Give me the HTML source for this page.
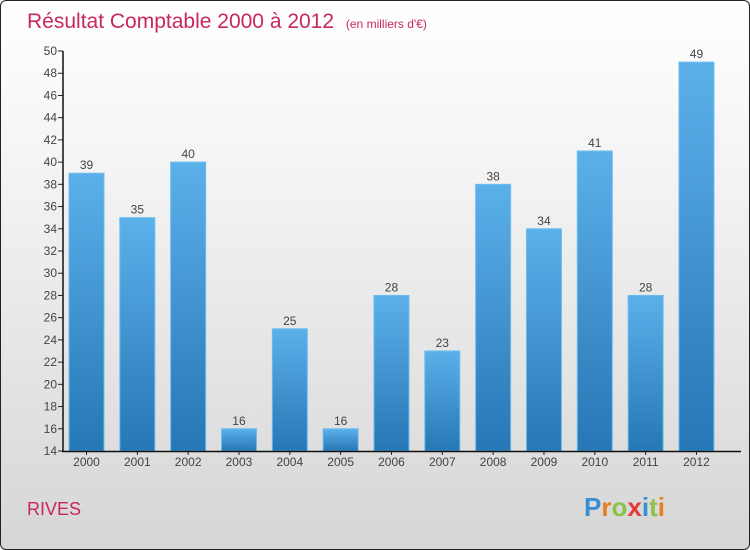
<!DOCTYPE html>
<html><head><meta charset="utf-8"><style>
body{margin:0;width:750px;height:550px;overflow:hidden;font-family:"Liberation Sans",sans-serif}
#frame{position:absolute;left:0;top:0;width:748px;height:548px;border:1px solid #222;border-radius:6px;background:linear-gradient(#ffffff,#f4f4f4 30%,#d6d6d6);overflow:hidden}
</style></head><body>
<div id="frame">
<svg width="750" height="550">
<defs>
<linearGradient id="bg" x1="0" y1="0" x2="0" y2="1"><stop offset="0" stop-color="#5cb0ea"/><stop offset="1" stop-color="#2677b5"/></linearGradient>
</defs>
<text x="26" y="27" font-size="21" fill="#c8285a">Résultat Comptable 2000 à 2012 <tspan font-size="12" dx="6">(en milliers d'€)</tspan></text>
<g id="plot"></g>
<text x="26" y="514" font-size="18" fill="#c8285a">RIVES</text>
<text x="583" y="515" font-size="26" font-weight="bold"><tspan fill="#3a8fd0">P</tspan><tspan fill="#e67e22">r</tspan><tspan fill="#8bc34a">o</tspan><tspan fill="#e53935">x</tspan><tspan fill="#3a8fd0">i</tspan><tspan fill="#8bc34a">t</tspan><tspan fill="#e67e22">i</tspan></text>
</svg></div>
<script>
const years=["2000","2001","2002","2003","2004","2005","2006","2007","2008","2009","2010","2011","2012"];
const values=[39,35,40,16,25,16,28,23,38,34,41,28,49];
const yTicks=[14,16,18,20,22,24,26,28,30,32,34,36,38,40,42,44,46,48,50];
const NS="http://www.w3.org/2000/svg";
const g=document.getElementById('plot');
const y=v=>450-(v-14)*400/36;
const x=i=>68+i*50.83;
function mk(t,a){const e=document.createElementNS(NS,t);for(const k in a)e.setAttribute(k,a[k]);g.appendChild(e);return e;}
yTicks.forEach(v=>{
 const l=mk('line',{x1:57,x2:62,y1:y(v),y2:y(v),stroke:'#222'});
 
 
 const t=mk('text',{x:56,y:y(v)+4,'text-anchor':'end','font-size':12,fill:'#444'});
 t.textContent=v;
 
 
});
years.forEach((yr,i)=>{
 const v=values[i];
 const r=mk('rect',{x:x(i),y:y(v),width:35,height:450-y(v),fill:'url(#bg)',stroke:'#6cbcf0','stroke-width':1});
 
 
 const t=mk('text',{x:x(i)+17.5,y:y(v)-4,'text-anchor':'middle','font-size':12,fill:'#444'});
 t.textContent=v;
 
 
 const xt=mk('text',{x:x(i)+17.5,y:465,'text-anchor':'middle','font-size':12,fill:'#444'});
 xt.textContent=yr;
 
 
 const tk=mk('line',{x1:x(i)+17.5,x2:x(i)+17.5,y1:450,y2:454,stroke:'#222'});
 
 
});
const ya=mk('line',{x1:62,x2:62,y1:50,y2:451,stroke:'#111','stroke-width':1.5});


const xa=mk('line',{x1:61,x2:740,y1:450.5,y2:450.5,stroke:'#111','stroke-width':1.5});


</script>
</body></html>
